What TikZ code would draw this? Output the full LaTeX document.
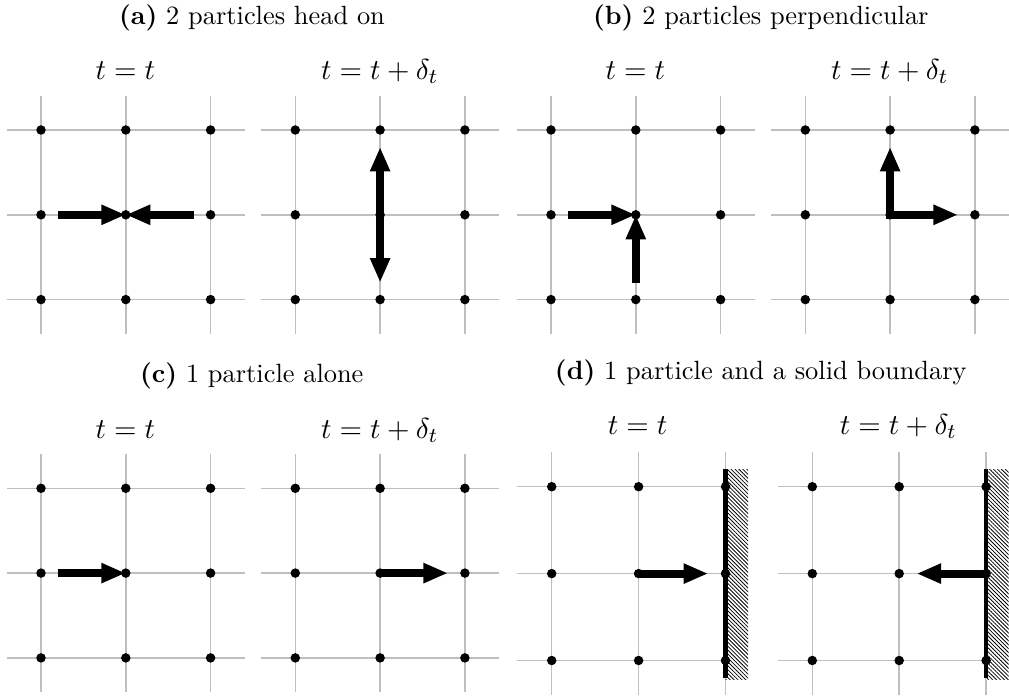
\documentclass[tikz,border=0pt]{standalone}
\usetikzlibrary{arrows.meta,patterns.meta}
\tikzset{
  gridline/.style={draw=black!25, line width=0.55pt},
  dot/.style={circle, fill=black, inner sep=0pt, minimum size=3.6pt},
  arr/.style={line width=3pt, -{Triangle[length=9.3pt,width=7.1pt]}},
  darr/.style={line width=3pt, {Triangle[length=9.3pt,width=7.1pt]}-{Triangle[length=9.3pt,width=7.1pt]}, line join=miter},
  wall/.style={line width=1.6pt},
  hatch/.style={pattern={Lines[angle=-45,distance=1.05pt,line width=0.3pt]}},
  capt/.style={anchor=base, inner sep=0pt, font=\fontsize{10}{12}\selectfont},
  subt/.style={anchor=base, inner sep=0pt, font=\fontsize{10.95}{13}\selectfont},
}
% #1 x0, #2 y0, #3 u, #4 right extension of horizontal lines
\newcommand{\lbmlines}[4]{%
  \foreach \i in {0,1,2} {
    \draw[gridline] ({#1+\i*#3},{#2-0.4*#3}) -- ({#1+\i*#3},{#2+2.4*#3});
    \draw[gridline] ({#1-0.4*#3},{#2+\i*#3}) -- ({#1+(2+#4)*#3},{#2+\i*#3});
  }%
}
% #1 name, #2 x0, #3 y0, #4 u
\newcommand{\lbmdots}[4]{%
  \foreach \i in {0,1,2} {
    \foreach \j in {0,1,2} {
      \node[dot] (#1-\i\j) at ({#2+\i*#4},{#3+\j*#4}) {};
    }
  }%
}
\begin{document}
\begin{tikzpicture}[x=0.379pt, y=-0.379pt]
\useasboundingbox (0,0) rectangle (1009,698);
\def\uT{84.8}
\def\uD{86.9}
% grid lines
\lbmlines{41}{130}{\uT}{0.4}
\lbmlines{295.3}{130}{\uT}{0.4}
\lbmlines{551}{130}{\uT}{0.4}
\lbmlines{805.3}{130}{\uT}{0.4}
\lbmlines{41}{488.3}{\uT}{0.4}
\lbmlines{295.3}{488.3}{\uT}{0.4}
\lbmlines{551.7}{486.7}{\uD}{0}
\lbmlines{812.3}{486.7}{\uD}{0}
% walls
\fill[white] ({551.7+2*\uD},{486.7-0.2*\uD}) rectangle ({551.7+2.26*\uD},{486.7+2.22*\uD});
\fill[hatch] ({551.7+2*\uD},{486.7-0.2*\uD}) rectangle ({551.7+2.26*\uD},{486.7+2.22*\uD});
\draw[wall] ({551.7+2*\uD},{486.7-0.2*\uD}) -- ({551.7+2*\uD},{486.7+2.2*\uD});
\fill[white] ({812.3+2*\uD},{486.7-0.2*\uD}) rectangle ({812.3+2.26*\uD},{486.7+2.22*\uD});
\fill[hatch] ({812.3+2*\uD},{486.7-0.2*\uD}) rectangle ({812.3+2.26*\uD},{486.7+2.22*\uD});
\draw[wall] ({812.3+2*\uD},{486.7-0.2*\uD}) -- ({812.3+2*\uD},{486.7+2.2*\uD});
% dots
\lbmdots{A1}{41}{130}{\uT}
\lbmdots{A2}{295.3}{130}{\uT}
\lbmdots{B1}{551}{130}{\uT}
\lbmdots{B2}{805.3}{130}{\uT}
\lbmdots{C1}{41}{488.3}{\uT}
\lbmdots{C2}{295.3}{488.3}{\uT}
\lbmdots{D1}{551.7}{486.7}{\uD}
\lbmdots{D2}{812.3}{486.7}{\uD}
% arrow end coordinates
\coordinate (a1l) at ({41+0.2*\uT},{130+\uT});
\coordinate (a1r) at ({41+1.8*\uT},{130+\uT});
\coordinate (a2t) at ({295.3+\uT},{130+0.2*\uT});
\coordinate (a2b) at ({295.3+\uT},{130+1.8*\uT});
\coordinate (b1l) at ({551+0.2*\uT},{130+\uT});
\coordinate (b1b) at ({551+\uT},{130+1.8*\uT});
\coordinate (b2t) at ({805.3+\uT},{130+0.2*\uT});
\coordinate (b2r) at ({805.3+1.8*\uT},{130+\uT});
\coordinate (c1l) at ({41+0.2*\uT},{488.3+\uT});
\coordinate (c2r) at ({295.3+1.8*\uT},{488.3+\uT});
\coordinate (d1r) at ({551.7+1.8*\uD},{486.7+\uD});
\coordinate (d2l) at ({812.3+1.2*\uD},{486.7+\uD});
% arrows
\draw[arr] (a1l) -- (A1-11.center);
\draw[arr] (a1r) -- (A1-11.center);
\draw[darr] (a2t) -- (a2b);
\draw[arr] (b1l) -- (B1-11.center);
\draw[arr] (b1b) -- (B1-11.center);
\draw[darr] (b2t) -- (B2-11.center) -- (b2r);
\draw[arr] (c1l) -- (C1-11.center);
\draw[arr] (C2-11.center) -- (c2r);
\draw[arr] (D1-11.center) -- (d1r);
\draw[arr] (D2-21.center) -- (d2l);
% captions
\node[capt] (capa) at (252,25) {\textbf{(a)} 2 particles head on};
\node[capt] (capb) at (760.8,24.5) {\textbf{(b)} 2 particles perpendicular};
\node[capt] (capc) at (251.8,382.7) {\textbf{(c)} 1 particle alone};
\node[capt] (capd) at (760.8,379.3) {\textbf{(d)} 1 particle and a solid boundary};
% subtitles
\node[subt] (ta1) at (125.3,79.3) {$t=t$};
\node[subt] (ta2) at (379.7,79.3) {$t=t+\delta_t$};
\node[subt] (tb1) at (635.3,79.3) {$t=t$};
\node[subt] (tb2) at (889.7,79.3) {$t=t+\delta_t$};
\node[subt] (tc1) at (125.3,438.3) {$t=t$};
\node[subt] (tc2) at (379.7,438.3) {$t=t+\delta_t$};
\node[subt] (td1) at (637.5,434.3) {$t=t$};
\node[subt] (td2) at (898.3,434.3) {$t=t+\delta_t$};
\end{tikzpicture}
\end{document}
